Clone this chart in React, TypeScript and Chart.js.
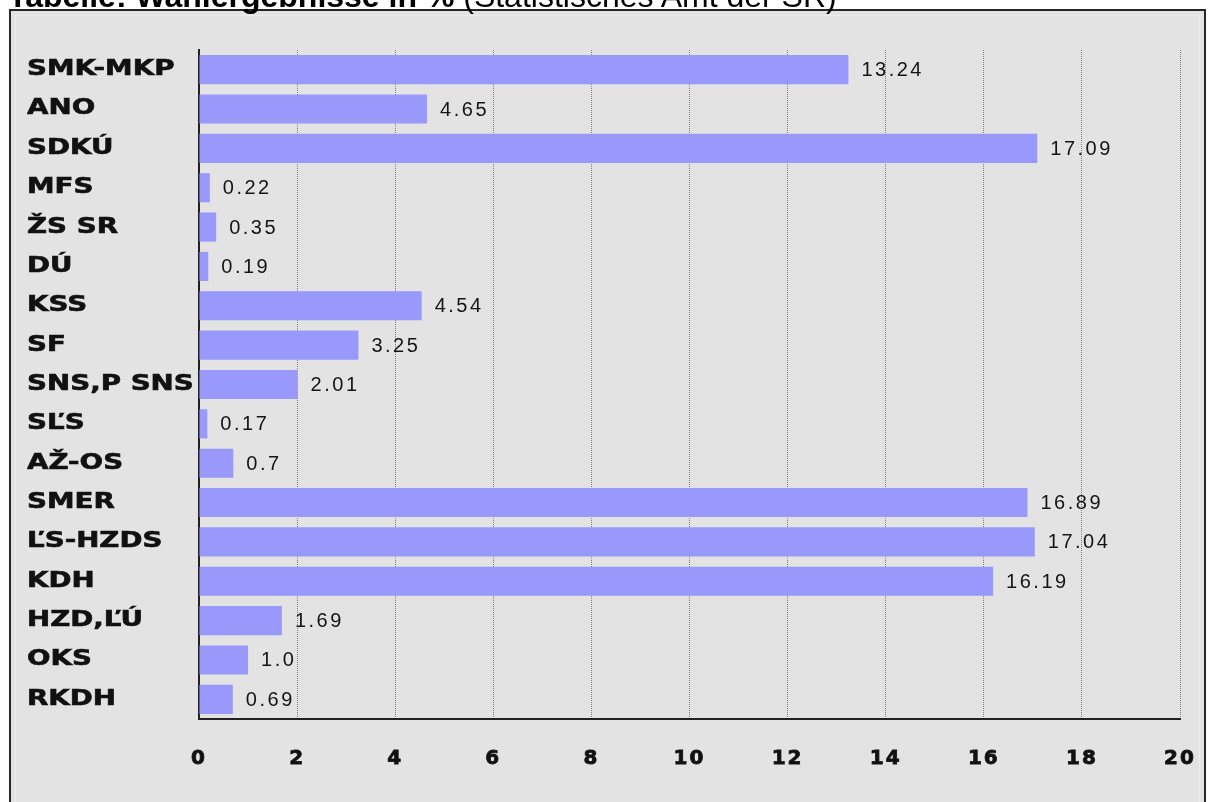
import React, { useEffect, useRef } from "react";
import { Chart, registerables } from "chart.js";

Chart.register(...registerables);

const categories = [
  "SMK-MKP", "ANO", "SDKÚ", "MFS", "ŽS SR", "DÚ", "KSS", "SF", "SNS,P SNS",
  "SĽS", "AŽ-OS", "SMER", "ĽS-HZDS", "KDH", "HZD,ĽÚ", "OKS", "RKDH",
];
const values = [
  13.24, 4.65, 17.09, 0.22, 0.35, 0.19, 4.54, 3.25, 2.01,
  0.17, 0.7, 16.89, 17.04, 16.19, 1.69, 1.0, 0.69,
];
const valueTexts = [
  "13.24", "4.65", "17.09", "0.22", "0.35", "0.19", "4.54", "3.25", "2.01",
  "0.17", "0.7", "16.89", "17.04", "16.19", "1.69", "1.0", "0.69",
];
const axisMin = 0;
const axisMax = 20;
const axisStep = 2;

const titleBold = "Tabelle: Wahlergebnisse in %";
const titleRest = " (Statistisches Amt der SR)";

const LABEL_LEFT = 27;
const LABEL_STRETCH = 1.32;

const stylePlugin = {
  id: "labelStyle",
  beforeDraw(chart: any) {
    chart.ctx.letterSpacing = "2px";
    const ys = chart.scales.y;
    if (ys && !ys.__stretched) {
      const orig = ys.drawLabels;
      ys.drawLabels = function (area: any) {
        const c = this.ctx;
        c.save();
        c.letterSpacing = "0px";
        c.translate(LABEL_LEFT, 0);
        c.scale(LABEL_STRETCH, 1);
        c.translate(-LABEL_LEFT, 0);
        orig.call(this, area);
        c.restore();
      };
      ys.__stretched = true;
    }
  },
  beforeDatasetsDraw(chart: any) {
    chart.ctx.letterSpacing = "0px";
  },
};

const valueLabelPlugin = {
  id: "valueLabels",
  afterDatasetsDraw(chart: any) {
    const ctx = chart.ctx;
    const meta = chart.getDatasetMeta(0);
    ctx.save();
    ctx.letterSpacing = "2.5px";
    ctx.font = '20px "Liberation Sans", Arial, sans-serif';
    ctx.fillStyle = "#151515";
    ctx.textAlign = "left";
    ctx.textBaseline = "middle";
    meta.data.forEach((bar: any, i: number) => {
      ctx.fillText(valueTexts[i], bar.x + 13, bar.y + 1);
    });
    ctx.restore();
  },
};

export default function App() {
  const canvasRef = useRef<HTMLCanvasElement | null>(null);

  useEffect(() => {
    if (!canvasRef.current) return;
    const chart = new Chart(canvasRef.current, {
      type: "bar",
      data: {
        labels: categories,
        datasets: [
          {
            data: values,
            backgroundColor: "#9999fb",
            borderWidth: 0,
            barPercentage: 0.74,
            categoryPercentage: 1,
          },
        ],
      },
      options: {
        indexAxis: "y",
        responsive: false,
        maintainAspectRatio: false,
        animation: false,
        layout: { padding: { left: LABEL_LEFT, top: 50, right: 28, bottom: 0 } },
        plugins: {
          legend: { display: false },
          tooltip: { enabled: false },
          title: { display: false },
        },
        scales: {
          x: {
            type: "linear",
            position: "bottom",
            min: axisMin,
            max: axisMax,
            ticks: {
              stepSize: axisStep,
              color: "#111",
              font: { family: "DejaVu Sans", weight: "bold", size: 20 },
              padding: 2,
              textStrokeColor: "#111",
              textStrokeWidth: 0.8,
            },
            grid: {
              color: "#7c7c7c",
              lineWidth: 1,
              drawTicks: true,
              tickLength: 26,
              tickColor: "rgba(0,0,0,0)",
            },
            border: { display: true, color: "#222", width: 2, dash: [1, 1] },
            afterFit: (s: any) => {
              s.height = 83;
            },
          },
          y: {
            type: "category",
            offset: true,
            ticks: {
              crossAlign: "far",
              color: "#111",
              font: { family: "DejaVu Sans", weight: "bold", size: 21 },
              padding: 0,
              textStrokeColor: "#111",
              textStrokeWidth: 0.6,
            },
            grid: { display: false, drawTicks: false },
            border: { display: true, color: "#222", width: 2 },
            afterFit: (s: any) => {
              s.width = 199 - LABEL_LEFT;
            },
          },
        },
      } as any,
      plugins: [stylePlugin, valueLabelPlugin],
    });
    return () => chart.destroy();
  }, []);

  return (
    <div
      style={{
        position: "fixed",
        left: 0,
        top: 0,
        width: 1208,
        height: 802,
        background: "#ffffff",
        overflow: "hidden",
      }}
    >
      <div
        style={{
          position: "absolute",
          left: 9,
          top: 9,
          width: 1197,
          height: 900,
          boxSizing: "border-box",
          border: "2px solid #262626",
          background: "#e3e3e3",
        }}
      >
        <div
          style={{
            position: "absolute",
            left: 4,
            top: 4,
            right: 4,
            bottom: 4,
            border: "1px solid #ededed",
          }}
        />
      </div>
      <canvas
        ref={canvasRef}
        width={1208}
        height={802}
        style={{ position: "absolute", left: 0, top: 0, width: 1208, height: 802 }}
      />
      <div
        style={{
          position: "absolute",
          left: 8,
          top: -22,
          whiteSpace: "nowrap",
          fontFamily: '"Liberation Sans", Arial, sans-serif',
          fontSize: 32,
          color: "#000",
          lineHeight: "normal",
        }}
      >
        <b>{titleBold}</b>
        {titleRest}
      </div>
    </div>
  );
}
